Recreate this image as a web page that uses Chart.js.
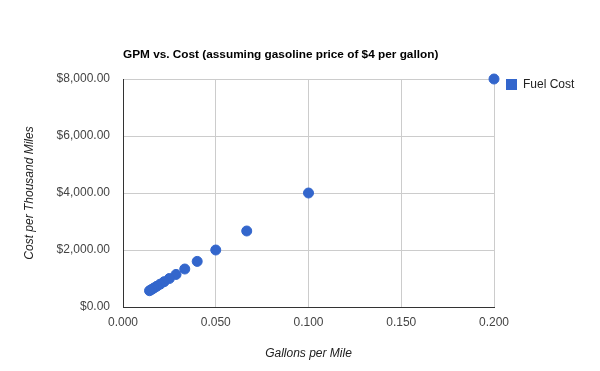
<!DOCTYPE html>
<html>
<head>
<meta charset="utf-8">
<script src="https://cdn.jsdelivr.net/npm/chart.js@4"></script>
<style>
  html, body { margin: 0; padding: 0; background: #fff; }
  #wrap { width: 600px; height: 371px; }
</style>
</head>
<body>
<div id="wrap"><canvas id="gpmChart" width="600" height="371"></canvas></div>
<script>
const chartTitle = 'GPM vs. Cost (assuming gasoline price of $4 per gallon)';
const seriesName = 'Fuel Cost';
const xTitle = 'Gallons per Mile';
const yTitle = 'Cost per Thousand Miles';

// gallons per mile and cost per thousand miles
const gpm = [0.2, 0.1, 0.0667, 0.05, 0.04, 0.0333, 0.0286, 0.025, 0.0222, 0.02, 0.0182, 0.0167, 0.0154, 0.0143];
const fuelCost = [8000, 4000, 2667, 2000, 1600, 1333, 1143, 1000, 889, 800, 727, 667, 615, 571];

const xTicks = [0, 0.05, 0.1, 0.15, 0.2];
const yTicks = [0, 2000, 4000, 6000, 8000];

const blue = '#3366cc';
const font = 'Arial, "Liberation Sans", sans-serif';

const points = gpm.map((g, i) => ({ x: g, y: fuelCost[i] }));

// title + legend drawn the google-charts way
const extras = {
  id: 'extras',
  afterDraw(chart) {
    const c = chart.ctx;
    const area = chart.chartArea;
    c.save();
    c.fillStyle = '#000';
    c.font = 'bold 11.8px ' + font;
    c.textBaseline = 'middle';
    c.textAlign = 'left';
    c.fillText(chartTitle, area.left, 55);

    c.fillStyle = blue;
    c.fillRect(506, 79, 11, 11);
    c.fillStyle = '#222';
    c.font = '12px ' + font;
    c.fillText(seriesName, 523, 85);
    c.restore();
  }
};

new Chart(document.getElementById('gpmChart'), {
  type: 'scatter',
  data: {
    datasets: [{
      label: seriesName,
      data: points,
      backgroundColor: blue,
      borderColor: blue,
      pointRadius: 5,
      pointHoverRadius: 5,
      clip: false
    }]
  },
  options: {
    responsive: false,
    animation: false,
    layout: { padding: { left: 0, right: 106, top: 79, bottom: 0 } },
    plugins: {
      legend: { display: false },
      title: { display: false },
      tooltip: { enabled: false }
    },
    scales: {
      x: {
        min: 0,
        max: 0.2,
        afterBuildTicks: s => { s.ticks = xTicks.map(v => ({ value: v })); },
        afterFit: s => { s.height = 64; },
        grid: { color: '#cccccc', drawTicks: false },
        border: { color: '#333333' },
        ticks: {
          padding: 8,
          color: '#444',
          font: { family: font, size: 12 },
          callback: v => Number(v).toFixed(3)
        },
        title: {
          display: true,
          text: xTitle,
          color: '#222',
          font: { family: font, size: 12, style: 'italic' },
          padding: { top: 0, bottom: 10 }
        }
      },
      y: {
        min: 0,
        max: 8000,
        afterBuildTicks: s => { s.ticks = yTicks.map(v => ({ value: v })); },
        afterFit: s => { s.width = 123; },
        grid: { color: '#cccccc', drawTicks: false },
        border: { color: '#333333' },
        ticks: {
          padding: 13,
          color: '#444',
          font: { family: font, size: 12 },
          callback: v => '$' + Number(v).toLocaleString('en-US', { minimumFractionDigits: 2, maximumFractionDigits: 2 })
        },
        title: {
          display: true,
          text: yTitle,
          color: '#222',
          font: { family: font, size: 12, style: 'italic' },
          padding: { top: 22, bottom: 0 }
        }
      }
    }
  },
  plugins: [extras]
});
</script>
</body>
</html>
